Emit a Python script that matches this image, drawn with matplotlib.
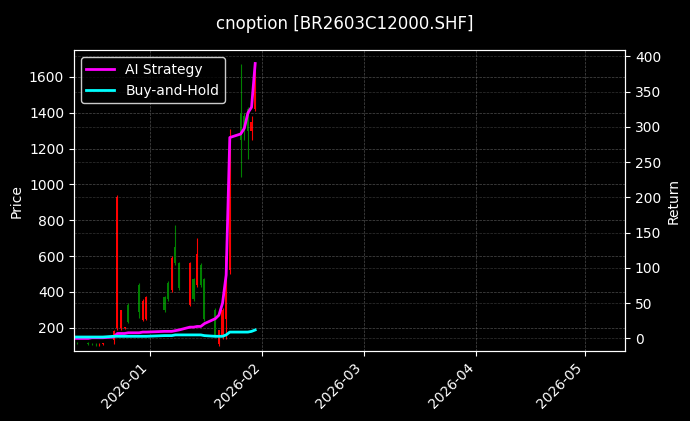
import matplotlib
matplotlib.use("Agg")
import matplotlib.pyplot as plt
import matplotlib.dates as mdates
import pandas as pd
import numpy as np

dates = pd.to_datetime([
 "2025-12-11","2025-12-12","2025-12-15","2025-12-16","2025-12-17","2025-12-18","2025-12-19",
 "2025-12-22","2025-12-23","2025-12-24","2025-12-25","2025-12-26","2025-12-29","2025-12-30","2025-12-31",
 "2026-01-05","2026-01-06","2026-01-07","2026-01-08","2026-01-09",
 "2026-01-12","2026-01-13","2026-01-14","2026-01-15","2026-01-16",
 "2026-01-19","2026-01-20","2026-01-21","2026-01-22","2026-01-23",
 "2026-01-26","2026-01-27","2026-01-28","2026-01-29","2026-01-30"])
opens  = [120,118,115,112,110,108,112, 130,200,200,200,330,440,245,250, 370,450,410,650,560, 330,470,440,550,470, 300,110,150,250,520, 1400,1380,1420,1300,1420]
highs  = [125,122,120,118,115,115,118, 190,940,300,205,340,451,360,380, 380,460,600,775,570, 570,480,700,560,480, 310,190,310,690,1310, 1670,1400,1430,1380,1680]
lows   = [110,108,105,102,100,100,105, 110,190,190,195,225,255,240,245, 290,350,400,550,410, 320,350,430,430,240, 150,100,140,140,500, 1040,1250,1140,1250,1410]
closes = [118,115,112,110,108,112,114, 180,930,300,202,230,290,350,370, 300,360,590,560,420, 560,360,610,440,250, 160,190,300,600,1250, 1250,1300,1300,1350,1660]
strategy = [0,0,0,1,1,1,1, 2,7,7,7,8,8,9,9, 10,10,10,11,12, 16,16,17,17,21, 28,33,50,90,285, 290,298,320,328,390]
buyhold  = [2,2,2,2,2,2,2, 3,3,3,3,3,3,3,3, 4,4,4,5,5, 5,5,5,5,4, 3,3,3,5,9, 9,9,9,10,12]

plt.rcParams['font.family'] = ['DejaVu Sans']
fig = plt.figure(figsize=(6.9, 4.21), dpi=100, facecolor='black')
ax = fig.add_axes([0.107, 0.166, 0.799, 0.715], facecolor='black')
ax2 = ax.twinx()

x = mdates.date2num(dates)
for xi, o, h, l, c in zip(x, opens, highs, lows, closes):
    col = 'red' if c >= o else 'green'
    ax.vlines(xi, l, h, color=col, linewidth=0.8, zorder=2)
    ax.bar(xi, abs(c - o) if abs(c - o) > 0 else 2, bottom=min(o, c), width=0.6, color=col, zorder=2)

ax2.plot(dates, strategy, color='magenta', linewidth=2, label='AI Strategy')
ax2.plot(dates, buyhold, color='cyan', linewidth=2, label='Buy-and-Hold')

ax.set_ylim(70, 1750)
ax2.set_ylim(-18, 409)
ax.set_xlim(mdates.date2num(pd.Timestamp("2025-12-11")), mdates.date2num(pd.Timestamp("2026-05-12")))
ax.xaxis.set_major_locator(mdates.MonthLocator())
ax.xaxis.set_major_formatter(mdates.DateFormatter('%Y-%m'))
plt.setp(ax.get_xticklabels(), rotation=45, ha='right')

ax.set_ylabel('Price', color='white')
ax2.set_ylabel('Return', color='white')
for a in (ax, ax2):
    a.tick_params(colors='white')
    for s in a.spines.values():
        s.set_color('white')
ax.grid(True, color='gray', linestyle='--', linewidth=0.5, alpha=0.6)
ax2.grid(True, color='gray', linestyle='--', linewidth=0.5, alpha=0.4)
leg = ax2.legend(loc='upper left', facecolor='black', edgecolor='white', labelcolor='white')
fig.suptitle('cnoption [BR2603C12000.SHF]', color='white', y=0.965)
fig.savefig('out.png', dpi=100, facecolor='black')
